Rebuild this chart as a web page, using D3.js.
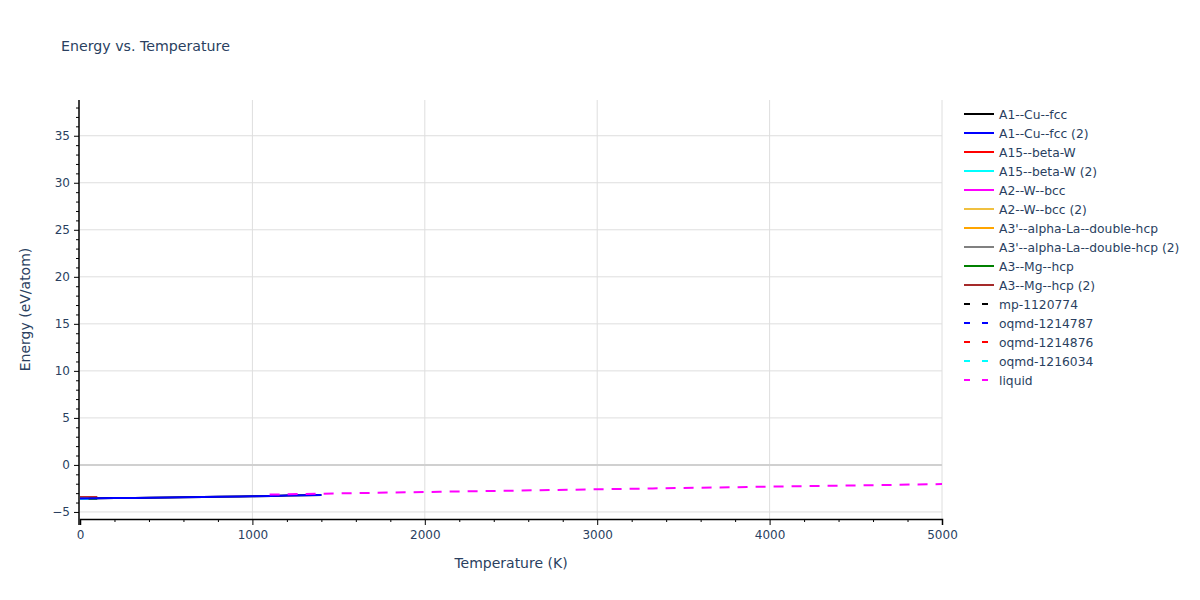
<!DOCTYPE html>
<html><head><meta charset="utf-8">
<script src="https://cdn.jsdelivr.net/npm/d3@7"></script>
<style>body{margin:0;background:#fff}text{font-family:"DejaVu Sans",Verdana,sans-serif}</style>
</head><body><svg id="c" width="1200" height="600"></svg>
<script>
const seriesNames = ["A1--Cu--fcc","A1--Cu--fcc (2)","A15--beta-W","A15--beta-W (2)","A2--W--bcc","A2--W--bcc (2)","A3'--alpha-La--double-hcp","A3'--alpha-La--double-hcp (2)","A3--Mg--hcp","A3--Mg--hcp (2)","mp-1120774","oqmd-1214787","oqmd-1214876","oqmd-1216034","liquid"];
const seriesColors = ["#000000","#0000ff","#ff0000","#00ffff","#ff00ff","#f0c040","#ffa500","#808080","#008000","#a52a2a","#000000","#0000ff","#ff0000","#00ffff","#ff00ff"];
const seriesDashed = [false,false,false,false,false,false,false,false,false,false,true,true,true,true,true];
// temperatures (K) and energies (eV/atom) per series
const temps = [
  [0,200,400,600,800,1000,1200,1400],
  [0,200,400,600,800,1000,1200,1400],
  [0,50,100],
  [0,25,50],
  [],
  [],
  [],
  [],
  [50,75,100],
  [0,50,100],
  [],
  [],
  [],
  [],
  [1100,1500,2000,2500,3000,3500,4000,4500,5000]
];
const energies = [
  [-3.56,-3.53,-3.49,-3.44,-3.39,-3.33,-3.26,-3.19],
  [-3.56,-3.53,-3.49,-3.44,-3.39,-3.33,-3.26,-3.19],
  [-3.45,-3.45,-3.44],
  [-3.6,-3.6,-3.6],
  [],
  [],
  [],
  [],
  [-3.6,-3.6,-3.59],
  [-3.45,-3.45,-3.44],
  [],
  [],
  [],
  [],
  [-3.15,-3.03,-2.88,-2.74,-2.59,-2.45,-2.31,-2.18,-2.04]
];
const xTicks = [0,1000,2000,3000,4000,5000];
const yTicks = [-5,0,5,10,15,20,25,30,35];

const svg = d3.select("#c");
const L=80,R=942,T=100,B=519;
const x = d3.scaleLinear().domain([0,5000]).range([L,R]);
const y = d3.scaleLinear().domain([-5.75,38.8]).range([B,T]);
const textCol="#2a3f5f";

// grid
svg.append("g").selectAll("line").data(xTicks.slice(1)).join("line")
  .attr("x1",d=>x(d)).attr("x2",d=>x(d)).attr("y1",T).attr("y2",B)
  .attr("stroke","#dedede").attr("stroke-width",1);
svg.append("g").selectAll("line").data(yTicks).join("line")
  .attr("x1",L).attr("x2",R).attr("y1",d=>y(d)).attr("y2",d=>y(d))
  .attr("stroke",d=>d===0?"#d0d0d0":"#dedede").attr("stroke-width",d=>d===0?2:1);

// series
const line = d3.line().x(d=>x(d[0])).y(d=>y(d[1])).curve(d3.curveMonotoneX);
const order = [0,2,9,3,8,4,5,6,7,10,11,12,13,1,14];
order.forEach(i=>{
  const pts = temps[i].map((t,j)=>[t,energies[i][j]]);
  if(!pts.length) return;
  svg.append("path").attr("d",line(pts)).attr("fill","none")
    .attr("stroke",seriesColors[i]).attr("stroke-width",2)
    .attr("stroke-dasharray",seriesDashed[i]?"10,8":null);
});

// axes
const xAxis = d3.axisBottom(x).tickValues(xTicks).tickSize(6).tickPadding(5).tickFormat(d3.format("d"));
const gx = svg.append("g").attr("transform",`translate(0,${B})`).call(xAxis);
gx.selectAll(".tick").filter(d=>d===0).select("line").remove();
svg.append("g").attr("transform",`translate(0,${B})`)
  .call(d3.axisBottom(x).tickValues(d3.range(200,5001,200).filter(v=>v%1000)).tickSize(3).tickFormat(""))
  .select(".domain").remove();
const yAxis = d3.axisLeft(y).tickValues(yTicks).tickSize(5).tickPadding(4).tickFormat(d=>d<0?"\u2212"+Math.abs(d):d);
const gy = svg.append("g").attr("transform",`translate(${L-1},0)`).call(yAxis);
svg.append("g").attr("transform",`translate(${L-1},0)`)
  .call(d3.axisLeft(y).tickValues(d3.range(-5,39,1).filter(v=>v%5)).tickSize(3).tickFormat(""))
  .select(".domain").remove();
[gx,gy].forEach(g=>{
  g.select(".domain").attr("stroke","#000").attr("stroke-width",1.5);
  g.selectAll("text").attr("fill",textCol).style("font-size","12px").style("font-family","DejaVu Sans, Verdana, sans-serif");
});
gy.select(".domain").attr("d",`M0,${T}V${B+6}`);

// titles
svg.append("text").attr("x",61).attr("y",51).text("Energy vs. Temperature").attr("fill",textCol).style("font-size","14.2px");
svg.append("text").attr("x",(L+R)/2).attr("y",568).attr("text-anchor","middle").text("Temperature (K)").attr("fill",textCol).style("font-size","14px");
svg.append("text").attr("transform",`translate(30,${(T+B)/2}) rotate(-90)`).attr("text-anchor","middle").text("Energy (eV/atom)").attr("fill",textCol).style("font-size","14px");

// legend
const lg = svg.append("g").attr("transform","translate(964,114)");
seriesNames.forEach((n,i)=>{
  const g = lg.append("g").attr("transform",`translate(0,${i*19})`);
  g.append("line").attr("x1",0).attr("x2",30).attr("y1",0).attr("y2",0)
    .attr("stroke",seriesColors[i]).attr("stroke-width",2)
    .attr("stroke-dasharray",seriesDashed[i]?"6,12":null).attr("stroke-dashoffset",0);
  g.append("text").attr("x",35).attr("y",4.5).text(n).attr("fill",textCol).style("font-size","12.3px");
});
</script></body></html>
